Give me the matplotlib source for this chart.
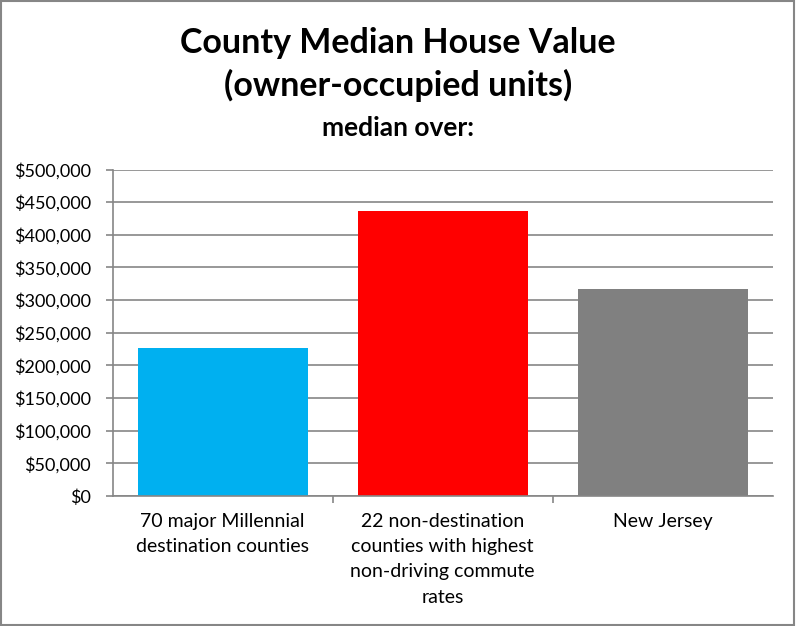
import matplotlib.pyplot as plt
from matplotlib.patches import Rectangle
from matplotlib.ticker import FuncFormatter, MultipleLocator

# data
categories = ['70 major Millennial\ndestination counties',
              '22 non-destination\ncounties with highest\nnon-driving commute\nrates',
              'New Jersey']
values = [227000, 437000, 317000]
colors = ['#00b0f0', '#ff0000', '#808080']

GRAY = '#868686'
plt.rcParams['font.family'] = ['Lato', 'DejaVu Sans']

fig = plt.figure(figsize=(7.96, 6.26), dpi=100)
ax = fig.add_axes([0.1416, 0.2077, 0.8291, 0.5215])

x = range(len(categories))
ax.bar(x, values, width=0.773, color=colors, zorder=3)

ax.set_xlim(-0.5, len(categories) - 0.5)
ax.set_ylim(0, 500000)
ax.yaxis.set_major_locator(MultipleLocator(50000))
ax.yaxis.set_major_formatter(FuncFormatter(lambda v, p: f'${v:,.0f}'))
ax.grid(axis='y', color=GRAY, linewidth=1.2, zorder=0)

# category labels centred, ticks on category boundaries
ax.set_xticks([i + 0.5 for i in range(len(categories) - 1)], minor=False)
ax.set_xticks(list(x), minor=True)
ax.set_xticklabels([])
ax.set_xticklabels(categories, minor=True, fontsize=14, linespacing=1.6)
ax.tick_params(axis='x', which='minor', length=0, pad=12)
ax.tick_params(axis='x', which='major', length=5, color=GRAY, width=1.2)
ax.tick_params(axis='y', length=5, color=GRAY, width=1.2, pad=10.5, labelsize=13)

for s in ['top', 'right']:
    ax.spines[s].set_visible(False)
for s in ['left', 'bottom']:
    ax.spines[s].set_color(GRAY)
    ax.spines[s].set_linewidth(1.2)
    ax.spines[s].set_zorder(4)

fig.text(0.5, 0.932, 'County Median House Value', ha='center', va='center',
         fontsize=24.5, fontweight='bold')
fig.text(0.5, 0.864, '(owner-occupied units)', ha='center', va='center',
         fontsize=24.5, fontweight='bold')
fig.text(0.5, 0.796, 'median over:', ha='center', va='center',
         fontsize=19, fontweight='bold')

fig.patches.append(Rectangle((0.001, 0.001), 0.997, 0.997, transform=fig.transFigure,
                             fill=False, edgecolor=GRAY, linewidth=1.5))

fig.savefig('out.png', dpi=100)
